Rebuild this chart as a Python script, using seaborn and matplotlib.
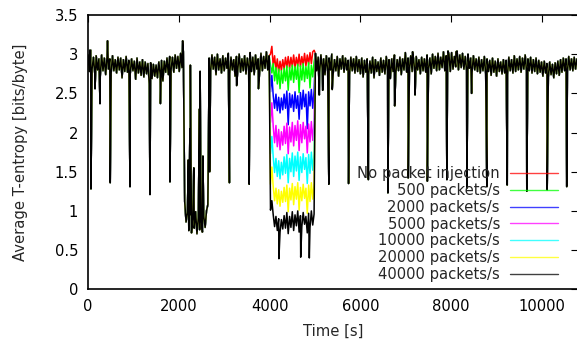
import numpy as np
import pandas as pd
import matplotlib
matplotlib.use("Agg")
import matplotlib.pyplot as plt
from matplotlib.lines import Line2D
import seaborn as sns

# ---------------- data (values in hundredths of bits/byte) ----------------
STEP = 30
# common trace before the injection window, t = 0 .. 3990 s
base_before = [
    299, 278, 305, 281, 296, 275, 298, 280, 294, 272, 299,
    279, 295, 274, 297, 281, 294, 276, 298, 279, 293,
    276, 296, 280, 295, 270, 293, 278, 297, 277, 292,
    275, 294, 279, 291, 268, 295, 276, 290, 273, 293,
    271, 290, 275, 288, 262, 289, 269, 287, 272, 286,
    270, 290, 274, 292, 266, 291, 277, 295, 274, 297,
    280, 296, 277, 299, 282, 297, 278, 301, 283, 303,
    # trough 2130 .. 2640 s
    112, 86, 98, 75, 95, 72, 93, 78, 99, 71, 91, 76, 96, 73, 93, 79, 100, 108,
    # 2670 .. 3990 s
    295, 278, 299, 281, 296, 274, 300, 280, 294, 276,
    298, 279, 295, 282, 301, 275, 296, 280, 293, 272,
    297, 281, 300, 277, 294, 279, 298, 275, 295, 282,
    302, 278, 296, 274, 299, 281, 294, 277, 301, 279,
    297, 282, 303, 280, 298,
]
# common trace after the injection window, t = 5010 .. 10770 s
base_after = [
    301, 279, 296, 276, 299, 282, 294, 274, 298, 278,
    295, 280, 300, 275, 293, 279, 297, 272, 294, 281,
    298, 277, 295, 280, 292, 274, 296, 279, 294, 276,
    297, 278, 293, 275, 295, 271, 292, 277, 294, 274,
    291, 276, 296, 270, 293, 278, 290, 273, 295, 277,
    292, 275, 297, 279, 293, 269, 294, 278, 299, 276,
    293, 279, 296, 274, 294, 280, 302, 277, 295, 281,
    298, 278, 294, 276, 297, 280, 293, 275, 296, 279,
    294, 277, 299, 281, 295, 275, 300, 282, 297, 279,
    301, 280, 296, 283, 303, 279, 298, 282, 300, 278,
    302, 281, 297, 284, 304, 280, 299, 283, 301, 281,
    297, 279, 300, 282, 295, 277, 298, 280, 294, 278,
    296, 276, 293, 279, 297, 275, 294, 278, 292, 273,
    295, 277, 291, 272, 294, 278, 290, 275, 293, 276,
    292, 274, 296, 279, 293, 276, 298, 278, 294, 280,
    297, 277, 295, 281, 299, 278, 294, 279, 296, 276,
    293, 278, 295, 275, 292, 277, 290, 272, 291, 276,
    288, 271, 290, 274, 287, 270, 289, 275, 291, 273,
    293, 277, 295, 279, 294, 278, 297, 280, 294, 279,
    296, 281, 294,
]
# injection window t = 4020 .. 4980 s, one list per injection rate
win_none = [300, 310, 285, 298, 280, 294, 277, 291, 279, 293, 281, 296, 283, 297, 282, 296, 284,
            299, 283, 296, 285, 300, 284, 297, 286, 301, 285, 299, 287, 302, 288, 303, 305]
win_500 = [286, 276, 288, 266, 283, 262, 281, 256, 279, 263, 282, 266, 285, 254, 283, 267, 286,
           264, 284, 268, 287, 251, 285, 267, 288, 265, 284, 269, 289, 257, 286, 271, 290]
win_2000 = [252, 273, 247, 231, 249, 228, 245, 225, 244, 229, 249, 231, 253, 210, 250, 232, 248,
            227, 252, 231, 247, 217, 251, 230, 254, 233, 249, 205, 252, 234, 255, 231, 253]
win_5000 = [213, 238, 208, 187, 209, 182, 204, 178, 201, 184, 208, 186, 212, 173, 207, 188, 213,
            183, 209, 190, 215, 177, 210, 187, 213, 192, 208, 174, 211, 188, 214, 190, 212]
win_10000 = [173, 195, 169, 149, 167, 144, 164, 141, 162, 146, 169, 148, 172, 136, 167, 150, 174,
             144, 170, 151, 175, 139, 169, 149, 173, 153, 168, 135, 172, 148, 175, 152, 173]
win_20000 = [134, 156, 131, 113, 129, 109, 127, 106, 125, 111, 130, 112, 133, 99, 129, 114, 135,
             108, 131, 115, 136, 101, 130, 113, 134, 116, 129, 97, 133, 112, 136, 115, 134]
win_40000 = [101, 113, 95, 80, 93, 75, 90, 73, 89, 77, 94, 78, 98, 71, 93, 79, 99,
             75, 95, 81, 100, 73, 94, 80, 98, 83, 93, 72, 97, 79, 100, 82, 96]

# isolated spikes / dips shared by all traces (s, bits/byte)
event_t = [40, 65, 155, 265, 430, 490, 925, 1365, 1595, 1805,
           2085, 2210, 2245, 2255, 2330, 2455, 2470, 2530, 2680, 3115,
           3275, 3550, 3755, 5095, 5170, 5305, 5380, 5740, 6175, 6605,
           6755, 7055, 7150, 7205, 7475, 7905, 7930, 8105, 8345, 8450,
           8785, 9235, 9665, 10115, 10545]
event_v = [3.05, 1.28, 2.56, 2.37, 3.17, 1.36, 1.31, 1.21, 2.37, 1.37,
           3.17, 1.65, 2.05, 2.86, 1.55, 2.30, 2.78, 1.70, 1.50, 1.36,
           2.60, 1.34, 2.56, 2.48, 2.54, 1.34, 2.55, 1.35, 1.40, 1.23,
           2.34, 1.42, 3.03, 2.48, 1.38, 1.40, 3.04, 3.03, 1.29, 2.50,
           1.31, 1.33, 1.25, 1.27, 1.31]
# dips of the 40000 packets/s trace inside the window
dip40k_t = [4205, 4685, 4875]
dip40k_v = [0.39, 0.41, 0.40]

labels = ["No packet injection", "500 packets/s", "2000 packets/s", "5000 packets/s",
          "10000 packets/s", "20000 packets/s", "40000 packets/s"]
windows = [win_none, win_500, win_2000, win_5000, win_10000, win_20000, win_40000]
colors = ["#ff0000", "#00ff00", "#0000ff", "#ff00ff", "#00ffff", "#ffff00", "#000000"]

# ---------------- build long table ----------------
t_before = np.arange(0, len(base_before)) * STEP
t_win = 4020 + np.arange(0, len(win_none)) * STEP
t_after = 5010 + np.arange(0, len(base_after)) * STEP

frames = []
for lab, win in zip(labels, windows):
    t = np.concatenate([t_before, t_win, t_after, event_t])
    v = np.concatenate([np.array(base_before) / 100, np.array(win) / 100,
                        np.array(base_after) / 100, event_v])
    if lab == "40000 packets/s":
        t = np.concatenate([t, dip40k_t])
        v = np.concatenate([v, dip40k_v])
    order = np.argsort(t, kind="stable")
    frames.append(pd.DataFrame({"t": t[order], "v": v[order], "series": lab}))
df = pd.concat(frames, ignore_index=True)

# ---------------- plot ----------------
sns.set_style("white")
plt.rcParams["font.family"] = ["DejaVu Sans"]
plt.rcParams["font.size"] = 10.6
plt.rcParams["path.simplify"] = False

fig = plt.figure(figsize=(5.77, 3.43), dpi=100)
ax = fig.add_axes([88 / 577, 1 - 289.3 / 343, 490.3 / 577, 274.3 / 343])

sns.lineplot(data=df, x="t", y="v", hue="series", hue_order=labels,
             palette=dict(zip(labels, colors)), estimator=None, sort=False,
             linewidth=1.1, legend=False, ax=ax)

ax.set_xlim(0, 10800)
ax.set_ylim(0, 3.5)
ax.set_xticks([0, 2000, 4000, 6000, 8000, 10000])
ax.set_yticks([0, 0.5, 1, 1.5, 2, 2.5, 3, 3.5])
ax.set_yticklabels(["0", "0.5", "1", "1.5", "2", "2.5", "3", "3.5"])
ax.tick_params(direction="in", length=5, width=0.8, top=True, right=True,
               labelsize=10.6, pad=7, colors="black")
for sp in ax.spines.values():
    sp.set_linewidth(1.2)
    sp.set_color("black")

ax.set_xlabel("Time [s]", fontsize=10.6)
ax.set_ylabel("Average T-entropy [bits/byte]", fontsize=10.6)
ax.xaxis.set_label_coords(0.5, -0.125)
ax.yaxis.set_label_coords(-0.122, 0.5)

handles = [Line2D([], [], color=c, lw=1.0, alpha=0.75) for c in colors]
leg = ax.legend(handles, labels, loc="lower right", bbox_to_anchor=(0.9586, 0.027),
                frameon=False, markerfirst=False, borderpad=0, borderaxespad=0,
                labelspacing=0.12, handlelength=3.26, handletextpad=0.68,
                fontsize=10.6)
for col in leg._legend_handle_box.get_children():
    col.align = "right"

fig.savefig("out.png", dpi=100)
